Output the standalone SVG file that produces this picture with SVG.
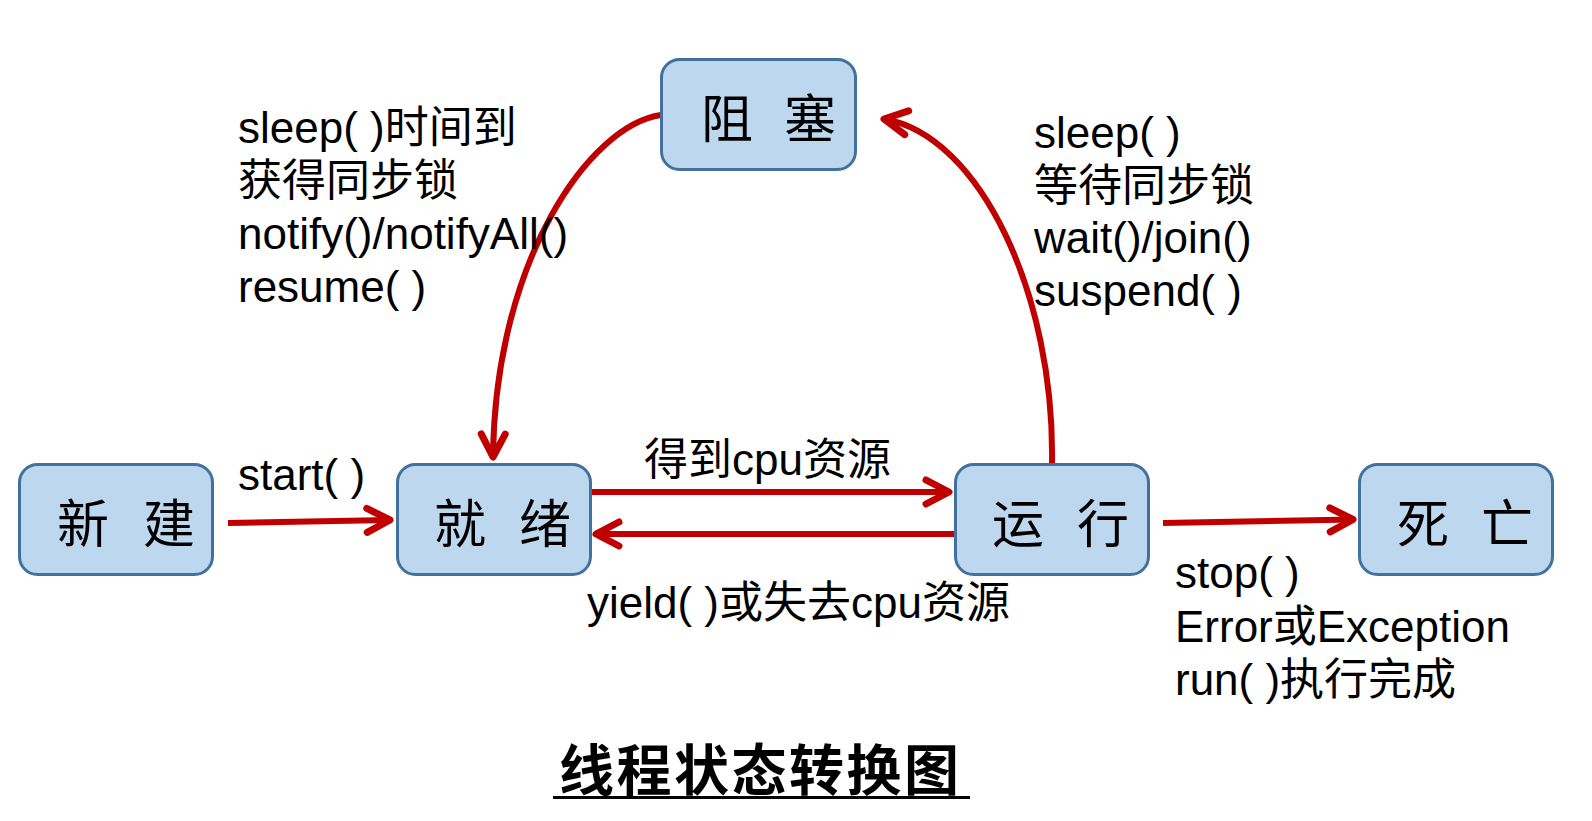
<svg xmlns="http://www.w3.org/2000/svg" width="1592" height="821" viewBox="0 0 1592 821">
  <style>
    .box { fill: #BDD7EE; stroke: #41719C; stroke-width: 3; }
    .ntext { font-family: "Noto Sans CJK SC", "Noto Sans", sans-serif; font-size: 52px; fill: #000; text-anchor: middle; }
    .lbl { font-family: "Liberation Sans", Arial, "Noto Sans CJK SC", sans-serif; font-size: 44px; fill: #000; }
    .conn { fill: none; stroke: #C00000; stroke-width: 6; }
    .title { font-family: "Noto Sans CJK SC", sans-serif; font-size: 55px; font-weight: bold; fill: #000; letter-spacing: 2.5px; }
  </style>
  <defs>
    <marker id="arr" markerUnits="userSpaceOnUse" viewBox="-32 -18 40 36" markerWidth="40" markerHeight="36" refX="0" refY="0" orient="auto" overflow="visible">
      <path d="M-23,-12 L0,0 L-23,12" fill="none" stroke="#C00000" stroke-width="7" stroke-linecap="round" stroke-linejoin="round"/>
    </marker>
  </defs>
  <rect width="1592" height="821" fill="#ffffff"/>

  <g id="connectors">
    <path class="conn" d="M228,523 L390,520" marker-end="url(#arr)"/>
    <path class="conn" d="M592,492 L949,492" marker-end="url(#arr)"/>
    <path class="conn" d="M954,534 L596,534" marker-end="url(#arr)"/>
    <path class="conn" d="M1163,523 L1353,519.5" marker-end="url(#arr)"/>
    <path class="conn" d="M661,115 C590,125 495,260 493,457" marker-end="url(#arr)"/>
    <path class="conn" d="M1052,464 C1055,295 980,135 884,119" marker-end="url(#arr)"/>
  </g>

  <g id="node-new">
    <rect class="box" x="19.5" y="464.5" width="193" height="110" rx="18"/>
    <text class="ntext" x="83" y="543">新</text>
    <text class="ntext" x="169" y="543">建</text>
  </g>
  <g id="node-ready">
    <rect class="box" x="397.5" y="464.5" width="193" height="110" rx="18"/>
    <text class="ntext" x="460" y="543">就</text>
    <text class="ntext" x="545" y="543">绪</text>
  </g>
  <g id="node-running">
    <rect class="box" x="955.5" y="464.5" width="193" height="110" rx="18"/>
    <text class="ntext" x="1018" y="543">运</text>
    <text class="ntext" x="1103" y="543">行</text>
  </g>
  <g id="node-dead">
    <rect class="box" x="1359.5" y="464.5" width="193" height="110" rx="18"/>
    <text class="ntext" x="1423" y="543">死</text>
    <text class="ntext" x="1507" y="543">亡</text>
  </g>
  <g id="node-blocked">
    <rect class="box" x="661.5" y="59.5" width="194" height="110" rx="18"/>
    <text class="ntext" x="727" y="138">阻</text>
    <text class="ntext" x="810" y="138">塞</text>
  </g>

  <g id="labels">
    <text class="lbl" x="238" y="143">sleep( )时间到</text>
    <text class="lbl" x="238" y="196">获得同步锁</text>
    <text class="lbl" x="238" y="249">notify()/notifyAll()</text>
    <text class="lbl" x="238" y="302">resume( )</text>

    <text class="lbl" x="1034" y="148">sleep( )</text>
    <text class="lbl" x="1034" y="200.5">等待同步锁</text>
    <text class="lbl" x="1034" y="253">wait()/join()</text>
    <text class="lbl" x="1034" y="305.5">suspend( )</text>

    <text class="lbl" x="238" y="490">start( )</text>
    <text class="lbl" x="644" y="475">得到cpu资源</text>
    <text class="lbl" x="587" y="618">yield( )或失去cpu资源</text>

    <text class="lbl" x="1175" y="588">stop( )</text>
    <text class="lbl" x="1175" y="642">Error或Exception</text>
    <text class="lbl" x="1175" y="695">run( )执行完成</text>
  </g>

  <g id="title">
    <text class="title" x="559" y="790">线程状态转换图</text>
    <line x1="553" y1="797.5" x2="970" y2="797.5" stroke="#000" stroke-width="3"/>
  </g>
</svg>
